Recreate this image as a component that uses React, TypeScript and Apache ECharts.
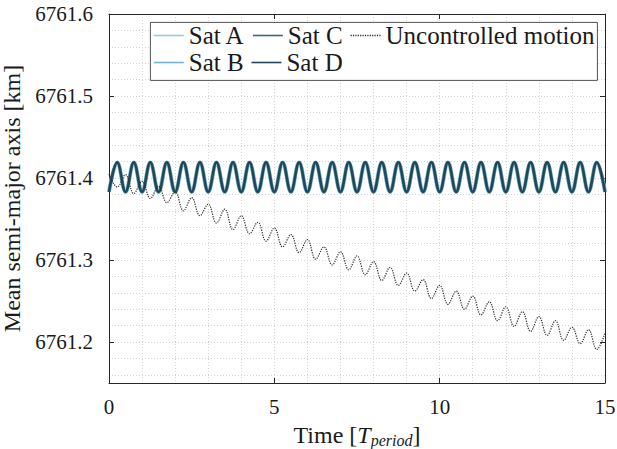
import React, { useEffect, useRef } from "react";
import * as echarts from "echarts";

const times = [
  0, 0.25, 0.5, 0.75, 1, 1.25, 1.5, 1.75, 2, 2.25, 2.5, 2.75, 3, 3.25, 3.5, 3.75,
  4, 4.25, 4.5, 4.75, 5, 5.25, 5.5, 5.75, 6, 6.25, 6.5, 6.75, 7, 7.25, 7.5, 7.75,
  8, 8.25, 8.5, 8.75, 9, 9.25, 9.5, 9.75, 10, 10.25, 10.5, 10.75, 11, 11.25, 11.5, 11.75,
  12, 12.25, 12.5, 12.75, 13, 13.25, 13.5, 13.75, 14, 14.25, 14.5, 14.75, 15,
];

const satValues = [
  6761.383, 6761.419, 6761.383, 6761.419, 6761.383, 6761.419, 6761.383, 6761.419,
  6761.383, 6761.419, 6761.383, 6761.419, 6761.383, 6761.419, 6761.383, 6761.419,
  6761.383, 6761.419, 6761.383, 6761.419, 6761.383, 6761.419, 6761.383, 6761.419,
  6761.383, 6761.419, 6761.383, 6761.419, 6761.383, 6761.419, 6761.383, 6761.419,
  6761.383, 6761.419, 6761.383, 6761.419, 6761.383, 6761.419, 6761.383, 6761.419,
  6761.383, 6761.419, 6761.383, 6761.419, 6761.383, 6761.419, 6761.383, 6761.419,
  6761.383, 6761.419, 6761.383, 6761.419, 6761.383, 6761.419, 6761.383, 6761.419,
  6761.383, 6761.419, 6761.383, 6761.419, 6761.383,
];

const uncontrolledValues = [
  6761.405, 6761.389, 6761.404, 6761.381, 6761.396, 6761.375, 6761.39, 6761.37,
  6761.383, 6761.36, 6761.376, 6761.354, 6761.368, 6761.345, 6761.362, 6761.337,
  6761.354, 6761.332, 6761.346, 6761.323, 6761.339, 6761.316, 6761.331, 6761.309,
  6761.325, 6761.301, 6761.316, 6761.294, 6761.31, 6761.288, 6761.305, 6761.282,
  6761.298, 6761.275, 6761.291, 6761.269, 6761.284, 6761.262, 6761.276, 6761.253,
  6761.269, 6761.246, 6761.262, 6761.24, 6761.256, 6761.233, 6761.249, 6761.226,
  6761.243, 6761.219, 6761.237, 6761.213, 6761.231, 6761.208, 6761.226, 6761.202,
  6761.218, 6761.198, 6761.215, 6761.191, 6761.211,
];

const satNames = ["Sat A", "Sat B", "Sat C", "Sat D"];
const satColors = ["#98cde0", "#72b4cf", "#3e6a72", "#21465a"];
const satWidths = [4, 3.4, 2.8, 2.1];
const uncontrolledName = "Uncontrolled motion";
const legendRow1 = ["Sat A", "Sat C", "Uncontrolled motion"];
const legendRow2 = ["Sat B", "Sat D"];

const FONT = "'Liberation Serif', 'Times New Roman', serif";
const AXIS_COLOR = "#262626";
const TEXT_COLOR = "#1a1a1a";

export default function App() {
  const ref = useRef<HTMLDivElement>(null);
  useEffect(() => {
    if (!ref.current) return;
    const chart = echarts.init(ref.current, null, { renderer: "svg" });
    const pair = (vals: number[]) => times.map((t, i) => [t, vals[i]]);
    const satSeries = satNames.map((name, i) => ({
      name,
      type: "line",
      data: pair(satValues),
      smooth: 0.4,
      symbol: "none",
      xAxisIndex: 0,
      yAxisIndex: 0,
      lineStyle: { color: satColors[i], width: satWidths[i] },
      itemStyle: { color: satColors[i] },
      z: 2 + i,
    }));
    const gridLine = { show: true, lineStyle: { color: "#d4d4d4", type: [1, 2], width: 1 } };
    const legendBase = {
      orient: "horizontal",
      left: 153,
      itemWidth: 30,
      itemHeight: 14,
      itemGap: 7,
      padding: 0,
      itemStyle: { opacity: 0, borderWidth: 0 },
      lineStyle: { width: 1.6 },
      textStyle: { fontFamily: FONT, fontSize: 25, color: TEXT_COLOR },
      z: 6,
    };
    chart.setOption({
      animation: false,
      backgroundColor: "#ffffff",
      textStyle: { fontFamily: FONT },
      grid: { left: 109, right: 12, top: 14, bottom: 66, containLabel: false, outerBoundsMode: "none" },
      graphic: [
        {
          type: "rect",
          left: 150,
          top: 22,
          z: 5,
          shape: { width: 447, height: 58 },
          style: { fill: "#ffffff", stroke: AXIS_COLOR, lineWidth: 0.8 },
        },
      ],
      legend: [
        { ...legendBase, data: legendRow1, top: 23 },
        { ...legendBase, data: legendRow2, top: 50 },
      ],
      xAxis: [
        {
          type: "value",
          min: 0,
          max: 15,
          interval: 5,
          name: "{a|Time [}{i|T}{s|period}{a|]}",
          nameLocation: "middle",
          nameGap: 39,
          nameTextStyle: {
            rich: {
              a: { fontFamily: FONT, fontSize: 24, color: TEXT_COLOR },
              i: { fontFamily: FONT, fontSize: 24, fontStyle: "italic", color: TEXT_COLOR },
              s: { fontFamily: FONT, fontSize: 16, fontStyle: "italic", color: TEXT_COLOR, verticalAlign: "bottom", padding: [10, 0, 0, 0] },
            },
          },
          axisLine: { show: true, onZero: false, lineStyle: { color: AXIS_COLOR, width: 1 } },
          axisTick: { show: true, inside: true, length: 5, lineStyle: { color: AXIS_COLOR } },
          axisLabel: { fontFamily: FONT, fontSize: 21, color: TEXT_COLOR, margin: 13 },
          splitLine: gridLine,
          minorTick: { show: false, splitNumber: 5 },
          minorSplitLine: gridLine,
        },
        {
          type: "value",
          position: "top",
          min: 0,
          max: 15,
          interval: 5,
          axisLine: { show: true, onZero: false, lineStyle: { color: AXIS_COLOR, width: 1 } },
          axisTick: { show: true, inside: true, length: 5, lineStyle: { color: AXIS_COLOR } },
          axisLabel: { show: false },
          splitLine: { show: false },
        },
      ],
      yAxis: [
        {
          type: "value",
          min: 6761.15,
          max: 6761.6,
          minInterval: 0.1,
          maxInterval: 0.1,
          name: "Mean semi-major axis [km]",
          nameLocation: "middle",
          nameRotate: 90,
          nameGap: 72,
          nameTextStyle: { fontFamily: FONT, fontSize: 24, color: TEXT_COLOR },
          axisLine: { show: true, onZero: false, lineStyle: { color: AXIS_COLOR, width: 1 } },
          axisTick: { show: true, inside: true, length: 5, lineStyle: { color: AXIS_COLOR } },
          axisLabel: {
            fontFamily: FONT,
            fontSize: 21,
            color: TEXT_COLOR,
            margin: 16,
            showMinLabel: false,
            formatter: (v: number) => v.toFixed(1),
          },
          splitLine: gridLine,
          minorTick: { show: false, splitNumber: 5 },
          minorSplitLine: gridLine,
        },
        {
          type: "value",
          position: "right",
          min: 6761.15,
          max: 6761.6,
          minInterval: 0.1,
          maxInterval: 0.1,
          axisLine: { show: true, onZero: false, lineStyle: { color: AXIS_COLOR, width: 1 } },
          axisTick: { show: true, inside: true, length: 5, lineStyle: { color: AXIS_COLOR } },
          axisLabel: { show: false },
          splitLine: { show: false },
        },
      ],
      series: [
        ...satSeries,
        {
          name: uncontrolledName,
          type: "line",
          data: pair(uncontrolledValues),
          smooth: 0.4,
          symbol: "none",
          xAxisIndex: 0,
          yAxisIndex: 0,
          lineStyle: { color: "#2a2a2a", width: 1.2, type: [1.2, 1.2] },
          itemStyle: { color: "#2a2a2a" },
          z: 10,
        },
      ],
    });
    return () => chart.dispose();
  }, []);
  return (
    <div
      ref={ref}
      style={{ position: "absolute", left: 0, top: 0, width: 617, height: 449, background: "#fff" }}
    />
  );
}
